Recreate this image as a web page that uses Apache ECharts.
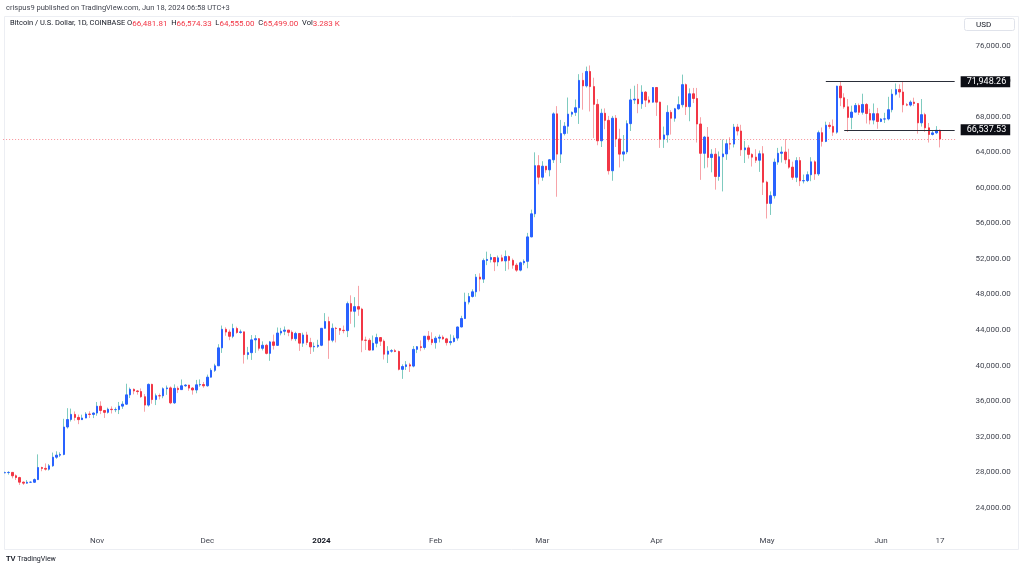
<!DOCTYPE html>
<html>
<head>
<meta charset="utf-8">
<title>Bitcoin / U.S. Dollar 1D</title>
<script src="https://cdn.jsdelivr.net/npm/echarts@6/dist/echarts.min.js"></script>
<style>
  html, body { margin: 0; padding: 0; background: #fff; }
  #chart { width: 1024px; height: 570px; }
</style>
</head>
<body>
<div id="chart"></div>
<script>
// daily candles, one row per day: [open, high, low, close]
const oct2023 = [
  [27930, 28060, 27860, 27950], [27950, 28100, 27720, 27970], [27970, 28000, 27300, 27590],
  [27590, 27740, 27120, 27390], [27390, 27480, 26560, 26870], [26870, 26950, 26560, 26760],
  [26760, 27100, 26700, 26860], [26860, 26970, 26810, 26860], [26860, 27290, 26800, 27160],
  [27160, 30000, 27120, 28520], [28520, 28610, 28100, 28420], [28420, 28980, 28170, 28330],
  [28330, 28920, 28180, 28710], [28710, 30200, 28600, 29680], [29680, 30350, 29500, 29910],
  [29910, 30230, 29700, 29990], [29990, 34000, 29900, 33080], [33080, 35200, 32900, 33920],
  [33920, 35150, 33700, 34500], [34500, 34830, 33800, 34160], [34160, 34480, 33400, 33910],
  [33910, 34470, 33900, 34090], [34090, 34750, 34080, 34540], [34540, 34850, 34100, 34500],
  [34500, 34720, 34080, 34650]
]
const nov2023 = [
  [34650, 35900, 34350, 35420], [35420, 35970, 34530, 34940], [34940, 34950, 34100, 34730],
  [34730, 35260, 34600, 35080], [35080, 35400, 34600, 35040], [35040, 35280, 34750, 35040],
  [35040, 35900, 34540, 35430], [35430, 35980, 35120, 35650], [35650, 37950, 35560, 36700],
  [36700, 37520, 36340, 37320], [37320, 37420, 36750, 37140], [37140, 37230, 36720, 37070],
  [37070, 37420, 36360, 36490], [36490, 36780, 34800, 35550], [35550, 37980, 35370, 37880],
  [37880, 37950, 35700, 36170], [36170, 36850, 35550, 36600], [36600, 36850, 36180, 36590],
  [36590, 37540, 36320, 37390], [37390, 37750, 36700, 37480], [37480, 37650, 35650, 35800],
  [35800, 37880, 35670, 37430], [37430, 37650, 36900, 37290], [37290, 38430, 37260, 37720],
  [37720, 37900, 37600, 37800], [37800, 37830, 37160, 37460], [37460, 37580, 36720, 37250],
  [37250, 38380, 36880, 37830], [37830, 38440, 37620, 37860], [37860, 38150, 37500, 37720]
]
const dec2023 = [
  [37720, 38980, 37620, 38690], [38690, 39700, 38650, 39460], [39460, 40200, 39280, 39970],
  [39970, 42400, 39970, 41990], [41990, 44500, 41420, 44080], [44080, 44300, 43350, 43770],
  [43770, 44050, 42850, 43290], [43290, 44700, 43080, 44170], [44170, 44370, 43580, 43720],
  [43720, 44050, 43580, 43790], [43790, 43800, 40220, 41240], [41240, 42100, 40680, 41450],
  [41450, 43430, 40630, 42890], [42890, 43420, 41420, 43020], [43020, 43090, 41680, 41940],
  [41940, 42720, 41700, 42280], [42280, 42440, 41250, 41370], [41370, 42770, 40530, 42660],
  [42660, 43480, 41800, 42270], [42270, 44280, 42200, 43660], [43660, 44240, 43400, 43860],
  [43860, 44400, 43420, 43990], [43990, 44000, 43300, 43740], [43740, 43950, 42800, 43020],
  [43020, 43800, 42750, 43610], [43610, 43620, 41650, 42520], [42520, 43700, 42100, 43440],
  [43440, 43800, 42300, 42600], [42600, 43120, 41300, 42100], [42100, 42600, 41550, 42160],
  [42160, 42900, 41980, 42280]
]
const jan2024 = [
  [42280, 44200, 42180, 44190], [44190, 45900, 44180, 44950], [44950, 45500, 40750, 42850],
  [42850, 44730, 42620, 44190], [44190, 44350, 42600, 44170], [44170, 44230, 43450, 43970],
  [43970, 44500, 43630, 43930], [43930, 47200, 43200, 46970], [46970, 47900, 44700, 46110],
  [46110, 47700, 44300, 46630], [46630, 48970, 45600, 46350], [46350, 46500, 41500, 42850],
  [42850, 43250, 41750, 42840], [42840, 43070, 41700, 41740], [41740, 43380, 41700, 42510],
  [42510, 43580, 42050, 43150], [43150, 43200, 42200, 42740], [42740, 42930, 40680, 41280],
  [41280, 42180, 40280, 41620], [41620, 41850, 41450, 41670], [41670, 41870, 41500, 41580],
  [41580, 41680, 39450, 39570], [39570, 40130, 38500, 39890], [39890, 40500, 39500, 40080],
  [40080, 40300, 39270, 39940], [39940, 42200, 39800, 41820], [41820, 42200, 41400, 42120],
  [42120, 42830, 41620, 42030], [42030, 43300, 41800, 43300], [43300, 43880, 42700, 42950],
  [42950, 43740, 42300, 42580]
]
const feb2024 = [
  [42580, 43300, 41900, 43080], [43080, 43480, 42600, 43190], [43190, 43400, 42900, 43000],
  [43000, 43120, 42250, 42580], [42580, 43500, 42280, 42700], [42700, 43400, 42600, 43090],
  [43090, 44380, 42800, 44340], [44340, 45600, 44300, 45290], [45290, 48200, 45250, 47140],
  [47140, 48170, 46880, 47770], [47770, 48580, 47650, 48300], [48300, 50300, 47750, 49950],
  [49950, 50380, 48350, 49730], [49730, 52050, 49300, 51830], [51830, 52820, 51300, 51940],
  [51940, 52570, 51600, 52160], [52160, 52200, 50630, 51660], [51660, 52380, 51180, 52120],
  [52120, 52480, 51700, 51780], [51780, 52950, 50650, 52270], [52270, 52380, 50820, 51840],
  [51840, 52050, 50900, 51300], [51300, 51550, 50540, 50740], [50740, 51700, 50600, 51570],
  [51570, 51950, 51300, 51730], [51730, 54930, 50950, 54480], [54480, 57550, 54440, 57080],
  [57080, 64000, 56700, 62500], [62500, 63680, 60400, 61200]
]
const mar2024 = [
  [61200, 63000, 60800, 62440], [62440, 62450, 61700, 62030], [62030, 63250, 61300, 63160],
  [63160, 68500, 62800, 68330], [68330, 69200, 59000, 63800], [63800, 67650, 62800, 66110],
  [66110, 67400, 65900, 66940], [66940, 70170, 66100, 68300], [68300, 68600, 68000, 68500],
  [68500, 69950, 68100, 69020], [69020, 72800, 67200, 72100], [72100, 72950, 68800, 71480],
  [71480, 73650, 71300, 73100], [73100, 73780, 68600, 71400], [71400, 72400, 65600, 69400],
  [69400, 70000, 64800, 65300], [65300, 68900, 64600, 68400], [68400, 68950, 66600, 67600],
  [67600, 68100, 61500, 61930], [61930, 68100, 60800, 67840], [67840, 68200, 64600, 65500],
  [65500, 66650, 62300, 63800], [63800, 65950, 63000, 64050], [64050, 67600, 63800, 67230],
  [67230, 71150, 66400, 69900], [69900, 71500, 69450, 69990], [69990, 71700, 68400, 69470],
  [69470, 71550, 68900, 70780], [70780, 70900, 69100, 69880], [69880, 70300, 69500, 69650],
  [69650, 71350, 69600, 71300]
]
const apr2024 = [
  [71300, 71350, 68100, 69650], [69650, 69700, 64500, 65480], [65480, 66900, 64500, 65960],
  [65960, 69300, 65100, 68500], [68500, 68750, 66000, 67840], [67840, 69000, 67450, 68900],
  [68900, 70300, 68800, 69360], [69360, 72750, 69050, 71620], [71620, 71750, 68200, 69140],
  [69140, 71200, 67500, 70590], [70590, 71250, 69550, 70060], [70060, 71250, 65100, 67190],
  [67190, 67950, 60900, 63890], [63890, 65850, 62200, 65720], [65720, 66850, 62300, 63420],
  [63420, 64350, 61750, 63790], [63790, 64480, 59800, 61280], [61280, 64100, 60800, 63500],
  [63500, 65450, 59600, 63820], [63820, 65400, 63150, 64970], [64970, 65700, 64300, 64930],
  [64930, 67200, 64550, 66840], [66840, 67200, 65900, 66400], [66400, 67100, 63600, 64290],
  [64290, 65300, 62800, 64500], [64500, 64800, 63300, 63770], [63770, 63900, 62400, 63460],
  [63460, 64350, 62800, 63110], [63110, 64200, 61800, 63840], [63840, 64700, 59200, 60640]
]
const may2024 = [
  [60640, 60800, 56550, 58250], [58250, 59600, 56950, 59120], [59120, 63300, 58800, 62900],
  [62900, 64500, 62600, 63890], [63890, 64650, 62850, 64030], [64030, 65500, 62700, 63170],
  [63170, 64400, 62150, 62330], [62330, 62950, 60900, 61190], [61190, 63450, 60650, 63070],
  [63070, 63470, 60200, 60790], [60790, 61500, 60500, 60820], [60820, 61850, 60650, 61480],
  [61480, 63450, 60750, 62930], [62930, 63100, 60900, 61570], [61570, 66450, 61350, 66210],
  [66210, 66800, 64650, 65230], [65230, 67450, 65150, 67050], [67050, 67400, 66650, 66920],
  [66920, 67700, 65850, 66270], [66270, 71500, 66100, 71450], [71450, 71950, 69200, 70140],
  [70140, 70650, 68900, 69120], [69120, 70000, 66300, 67930], [67930, 69250, 66600, 68530],
  [68530, 69550, 68500, 69280], [69280, 69500, 68200, 68510], [68510, 70600, 68250, 69390],
  [69390, 69550, 67250, 68370], [68370, 68900, 67150, 67630], [67630, 69500, 67150, 68350],
  [68350, 69000, 66650, 67470]
]
const jun2024 = [
  [67470, 67850, 67400, 67750], [67750, 68450, 67300, 67760], [67760, 70250, 67600, 68800],
  [68800, 71100, 68500, 70550], [70550, 71750, 70400, 71080], [71080, 71650, 70150, 70790],
  [70790, 71950, 68500, 69350], [69350, 69550, 69200, 69320], [69320, 69850, 69150, 69650],
  [69650, 70150, 69200, 69500], [69500, 69550, 66100, 67320], [67320, 70000, 66900, 68240],
  [68240, 68450, 66300, 66760], [66760, 67300, 65100, 66010], [66010, 66400, 65900, 66190],
  [66190, 66950, 66050, 66481.81], [66481.81, 66574.33, 64555.00, 65499.00]
]

// [year-month, first day shown, rows]
const months = [
  ['2023-10', 7, oct2023], ['2023-11', 1, nov2023], ['2023-12', 1, dec2023],
  ['2024-01', 1, jan2024], ['2024-02', 1, feb2024], ['2024-03', 1, mar2024],
  ['2024-04', 1, apr2024], ['2024-05', 1, may2024], ['2024-06', 1, jun2024]
]
// empty days after the last candle (right margin of the price pane)
const emptyDays = ['2024-06-18', '2024-06-19', '2024-06-20', '2024-06-21']

const monthNames = ['Jan', 'Feb', 'Mar', 'Apr', 'May', 'Jun', 'Jul', 'Aug', 'Sep', 'Oct', 'Nov', 'Dec']
const markedDay = '2024-06-17'
const priceTicks = [24000, 28000, 32000, 36000, 40000, 44000, 48000, 52000, 56000, 60000, 64000, 68000, 72000, 76000]

// horizontal levels drawn on the chart
const levelStarts = ['2024-05-17', '2024-05-22']
const levelPrices = [71948.26, 66537.53]
const lastVolume = '3.283 K'

const UP = '#2962FF'
const DOWN = '#F23645'
const UP_WICK = '#7fcbbf'
const DOWN_WICK = '#f7a3a8'
const FONT = 'Roboto, "Noto Sans", sans-serif'

const pad = n => (n < 10 ? '0' : '') + n
const fmt = v => v.toLocaleString('en-US', { minimumFractionDigits: 2, maximumFractionDigits: 2 })

const dates = []
const rows = []
months.forEach(([ym, first, list]) => {
  list.forEach((r, i) => {
    dates.push(ym + '-' + pad(first + i))
    rows.push(r)
  })
})
const categories = dates.concat(emptyDays)
const blanks = emptyDays.map(() => '-')

// echarts candle item is [open, close, lowest, highest]
const wickData = rows.map(r => [r[0], r[3], r[2], r[1]]).concat(blanks)
const bodyData = rows.map(r => [r[0], r[3], Math.min(r[0], r[3]), Math.max(r[0], r[3])]).concat(blanks)

const last = rows[rows.length - 1]
const lastCat = categories[categories.length - 1]

const levelLines = levelPrices.map((p, i) => [
  { coord: [levelStarts[i], p] },
  {
    coord: [lastCat, p],
    label: {
      show: true,
      position: 'end',
      distance: 6,
      formatter: fmt(p),
      color: '#fff',
      backgroundColor: '#0c0e15',
      padding: [1, 4, 1, 6],
      fontSize: 9,
      fontFamily: FONT
    }
  }
])

const chart = echarts.init(document.getElementById('chart'))
chart.setOption({
  animation: false,
  backgroundColor: '#fff',
  textStyle: { fontFamily: FONT },
  grid: { left: 3.1, right: 67.5, top: 10.2, bottom: 26.8 },
  xAxis: {
    type: 'category',
    data: categories,
    offset: -10,
    axisLine: { show: false },
    axisTick: { show: false },
    splitLine: { show: false },
    axisLabel: {
      margin: 3.5,
      fontSize: 8,
      color: '#434651',
      interval: (idx, val) => val.slice(8) === '01' || val === markedDay,
      formatter: val => {
        if (val === markedDay) return val.slice(8)
        const m = +val.slice(5, 7)
        if (m === 1) return '{y|' + val.slice(0, 4) + '}'
        return monthNames[m - 1]
      },
      rich: { y: { fontWeight: 'bold', fontSize: 8, color: '#131722' } }
    }
  },
  yAxis: {
    type: 'value',
    position: 'right',
    min: 20000,
    max: 80000,
    interval: 4000,
    axisLine: { show: false },
    axisTick: { show: false },
    splitLine: { show: false },
    axisLabel: {
      margin: 19,
      fontSize: 8,
      color: '#434651',
      formatter: v => (priceTicks.indexOf(v) >= 0 ? fmt(v) : '')
    }
  },
  series: [
    {
      // wicks, drawn first in the lighter default colours
      name: 'wick',
      type: 'candlestick',
      data: wickData,
      barWidth: 1,
      itemStyle: {
        color: UP_WICK,
        color0: DOWN_WICK,
        borderColor: UP_WICK,
        borderColor0: DOWN_WICK,
        borderWidth: 1
      },
      markLine: {
        silent: true,
        symbol: ['none', 'none'],
        label: { show: false },
        data: [
          {
            yAxis: last[3],
            lineStyle: { color: DOWN, type: [1, 2], width: 1, opacity: 0.55 }
          }
        ]
      }
    },
    {
      name: 'BTCUSD',
      type: 'candlestick',
      data: bodyData,
      barWidth: 2,
      itemStyle: {
        color: UP,
        color0: DOWN,
        borderColor: UP,
        borderColor0: DOWN,
        borderWidth: 1
      },
      markLine: {
        silent: true,
        symbol: ['none', 'none'],
        label: { show: false },
        lineStyle: { color: '#2a2e39', type: 'solid', width: 1 },
        data: levelLines
      }
    }
  ],
  graphic: [
    {
      type: 'rect',
      z: -1,
      shape: { x: 4.5, y: 16.5, width: 1014, height: 533 },
      style: { fill: 'none', stroke: '#eceef3', lineWidth: 1 }
    },
    {
      type: 'text',
      left: 6,
      top: 4,
      style: {
        text: 'crispus9 published on TradingView.com, Jun 18, 2024 06:58 UTC+3',
        fontSize: 7.5,
        fontFamily: FONT,
        fill: '#434651'
      }
    },
    {
      type: 'text',
      left: 10,
      top: 19.5,
      style: {
        text: '{k|Bitcoin / U.S. Dollar, 1D, COINBASE} {k|O}{v|' + fmt(last[0]) + '}  {k|H}{v|' + fmt(last[1]) +
          '}  {k|L}{v|' + fmt(last[2]) + '}  {k|C}{v|' + fmt(last[3]) + '}  {k|Vol}{v|' + lastVolume + '}',
        fontSize: 7.5,
        fontFamily: FONT,
        rich: {
          k: { fill: '#131722', color: '#131722', fontSize: 7.5, fontFamily: FONT },
          v: { fill: DOWN, color: DOWN, fontSize: 8, fontFamily: FONT }
        }
      }
    },
    {
      type: 'rect',
      shape: { x: 964.5, y: 18.5, width: 50, height: 12, r: 2 },
      style: { fill: '#fff', stroke: '#e0e3eb', lineWidth: 1 }
    },
    {
      type: 'text',
      left: 976,
      top: 20.5,
      style: { text: 'USD', fontSize: 8, fontFamily: FONT, fill: '#131722' }
    },
    {
      type: 'text',
      left: 6,
      top: 555,
      style: {
        text: '{b|TV} TradingView',
        fontSize: 7,
        fontFamily: FONT,
        fill: '#131722',
        rich: { b: { fontWeight: 'bold', fontSize: 7.5, fill: '#131722', color: '#131722' } }
      }
    }
  ]
})
</script>
</body>
</html>
